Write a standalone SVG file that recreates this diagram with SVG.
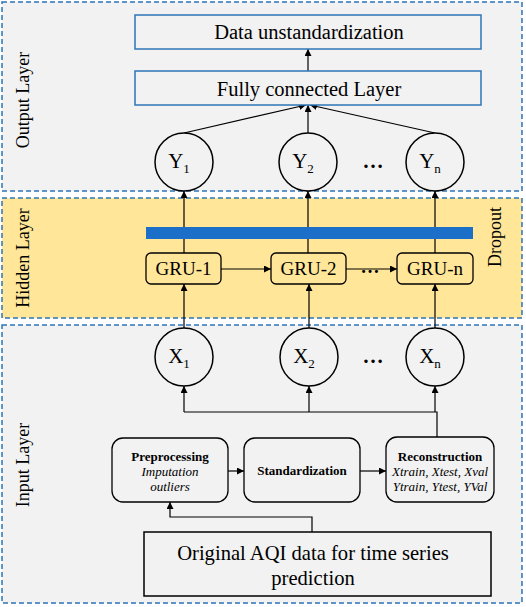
<svg xmlns="http://www.w3.org/2000/svg" width="526" height="607" viewBox="0 0 526 607">
<defs>
<marker id="arr" viewBox="0 0 10 10" refX="10" refY="5" markerWidth="7" markerHeight="7" markerUnits="userSpaceOnUse" orient="auto">
<path d="M0,0 L10,5 L0,10 z" fill="#000"/>
</marker>
<style>
text{font-family:'Liberation Serif','DejaVu Serif',serif;fill:#000}
.layer{stroke:#2E75B6;stroke-width:1.5;stroke-dasharray:5,3}
.bluebox{fill:#F2F2F2;stroke:#2E75B6;stroke-width:1.5}
.circ{fill:#F2F2F2;stroke:#000;stroke-width:1.5}
.gru{fill:#FFE699;stroke:#000;stroke-width:1.3}
.proc{fill:#F2F2F2;stroke:#000;stroke-width:1.3}
.con{fill:none;stroke:#000;stroke-width:1.2}
.arrow{marker-end:url(#arr)}
.lbl{font-size:18px}
.big{font-size:20.5px}
.gt{font-size:19px}
.var{font-size:21px}
.orig{font-size:20.6px}
.sub{font-size:13px}
.b{font-size:13px;font-weight:bold}
.i{font-size:13px;font-style:italic}
</style>
</defs>
<rect width="526" height="607" fill="#fff"/>
<g id="output-layer">
<rect class="layer" x="2" y="2" width="520" height="189" fill="#F2F2F2"/>
<text class="lbl" transform="translate(29,100) rotate(-90)" text-anchor="middle">Output Layer</text>
</g>
<g id="hidden-layer">
<rect class="layer" x="2" y="198" width="520" height="120" fill="#FFE699"/>
<text class="lbl" transform="translate(29,258) rotate(-90)" text-anchor="middle">Hidden Layer</text>
</g>
<g id="input-layer">
<rect class="layer" x="2" y="325" width="520" height="278" fill="#F2F2F2"/>
<text class="lbl" transform="translate(29,465) rotate(-90)" text-anchor="middle">Input Layer</text>
</g>
<g id="connectors">
<line class="con arrow" x1="308" y1="71" x2="308" y2="49"/>
<line class="con arrow" x1="184" y1="133" x2="306" y2="105"/>
<line class="con arrow" x1="308" y1="133" x2="308" y2="105"/>
<line class="con arrow" x1="435" y1="133" x2="310" y2="105"/>
<line class="con arrow" x1="184" y1="253" x2="184" y2="191"/>
<line class="con arrow" x1="308" y1="253" x2="308" y2="191"/>
<line class="con arrow" x1="435" y1="253" x2="435" y2="191"/>
<line class="con arrow" x1="221" y1="269" x2="271" y2="269"/>
<line class="con arrow" x1="346" y1="269" x2="397" y2="269"/>
<line class="con arrow" x1="184" y1="328" x2="184" y2="284"/>
<line class="con arrow" x1="309" y1="328" x2="309" y2="284"/>
<line class="con arrow" x1="435" y1="328" x2="435" y2="284"/>
<polyline class="con" points="184,412 437,412 437,437"/>
<line class="con arrow" x1="184" y1="412" x2="184" y2="386"/>
<line class="con arrow" x1="309" y1="412" x2="309" y2="386"/>
<line class="con arrow" x1="435" y1="412" x2="435" y2="386"/>
<line class="con arrow" x1="228" y1="471" x2="244" y2="471"/>
<line class="con arrow" x1="360" y1="471" x2="386" y2="471"/>
<polyline class="con arrow" points="312,532 312,517 170,517 170,502"/>
</g>
<g id="dropout">
<rect x="146" y="227" width="327" height="12" fill="#1C6FC8"/>
<text class="lbl" transform="translate(501,237) rotate(-90)" text-anchor="middle">Dropout</text>
</g>
<g id="data-unstandardization">
<rect class="bluebox" x="135" y="15" width="346" height="34"/>
<text class="big" x="309" y="39" text-anchor="middle">Data unstandardization</text>
</g>
<g id="fully-connected">
<rect class="bluebox" x="135" y="71" width="346" height="34"/>
<text class="big" x="309" y="96" text-anchor="middle">Fully connected Layer</text>
</g>
<g id="y1"><circle class="circ" cx="184" cy="162" r="29"/><text class="var" x="179" y="168" text-anchor="middle">Y<tspan class="sub" dy="5">1</tspan></text></g>
<g id="y2"><circle class="circ" cx="308" cy="162" r="29"/><text class="var" x="303" y="168" text-anchor="middle">Y<tspan class="sub" dy="5">2</tspan></text></g>
<text class="var" x="373" y="168" text-anchor="middle" font-weight="bold">…</text>
<g id="yn"><circle class="circ" cx="435" cy="162" r="29"/><text class="var" x="430" y="168" text-anchor="middle">Y<tspan class="sub" dy="5">n</tspan></text></g>
<g id="gru1"><rect class="gru" x="146" y="253" width="75" height="31" rx="5"/><text class="gt" x="183.5" y="275" text-anchor="middle">GRU-1</text></g>
<g id="gru2"><rect class="gru" x="271" y="253" width="75" height="31" rx="5"/><text class="gt" x="308.5" y="275" text-anchor="middle">GRU-2</text></g>
<text class="gt" x="370" y="273" text-anchor="middle" font-weight="bold">…</text>
<g id="grun"><rect class="gru" x="397" y="253" width="76" height="31" rx="5"/><text class="gt" x="435" y="275" text-anchor="middle">GRU-n</text></g>
<g id="x1"><circle class="circ" cx="184" cy="357" r="29"/><text class="var" x="179" y="363" text-anchor="middle">X<tspan class="sub" dy="5">1</tspan></text></g>
<g id="x2"><circle class="circ" cx="309" cy="357" r="29"/><text class="var" x="304" y="363" text-anchor="middle">X<tspan class="sub" dy="5">2</tspan></text></g>
<text class="var" x="373" y="363" text-anchor="middle" font-weight="bold">…</text>
<g id="xn"><circle class="circ" cx="435" cy="357" r="29"/><text class="var" x="430" y="363" text-anchor="middle">X<tspan class="sub" dy="5">n</tspan></text></g>
<g id="preprocessing">
<rect class="proc" x="112" y="438" width="116" height="64" rx="11"/>
<text class="b" x="170" y="461" text-anchor="middle">Preprocessing</text>
<text class="i" x="170" y="476" text-anchor="middle">Imputation</text>
<text class="i" x="170" y="491" text-anchor="middle">outliers</text>
</g>
<g id="standardization">
<rect class="proc" x="244" y="438" width="116" height="64" rx="11"/>
<text class="b" x="302" y="475" text-anchor="middle">Standardization</text>
</g>
<g id="reconstruction">
<rect class="proc" x="386" y="437" width="108" height="65" rx="11"/>
<text class="b" x="440" y="461" text-anchor="middle">Reconstruction</text>
<text class="i" x="440" y="476" text-anchor="middle">Xtrain, Xtest, Xval</text>
<text class="i" x="440" y="491" text-anchor="middle">Ytrain, Ytest, YVal</text>
</g>
<g id="original-data">
<rect x="144" y="532" width="347" height="64" fill="#F2F2F2" stroke="#000" stroke-width="1.5"/>
<text class="orig" x="313" y="560" text-anchor="middle">Original AQI data for time series</text>
<text class="orig" x="313" y="585" text-anchor="middle">prediction</text>
</g>
</svg>
